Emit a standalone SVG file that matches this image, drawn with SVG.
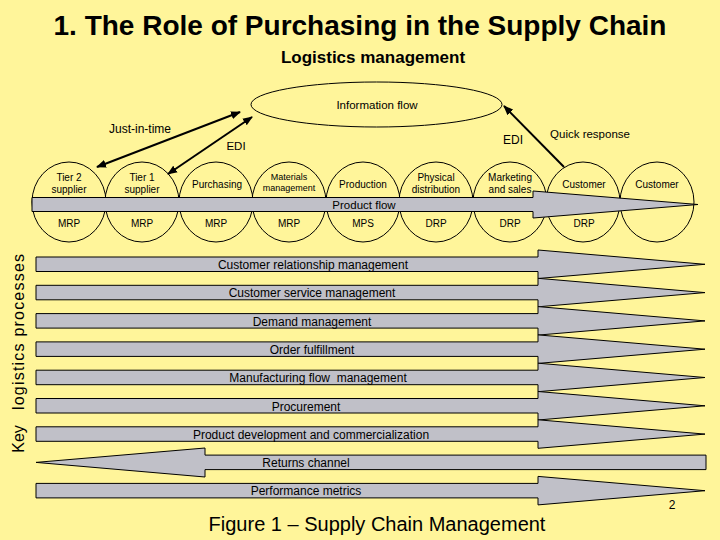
<svg xmlns="http://www.w3.org/2000/svg" width="720" height="540" viewBox="0 0 720 540">
<style>
text{font-family:"Liberation Sans",Arial,sans-serif;fill:#000}
.t{font-size:28px;font-weight:bold}
.st{font-size:17px;font-weight:bold}
.c{font-size:10px;text-anchor:middle}
.cs{font-size:9px;text-anchor:middle}
.l{font-size:12px;text-anchor:middle}
.node{fill:none;stroke:#000;stroke-width:1}
.bar{fill:#C0C0C8;stroke:#000;stroke-width:1}
.conn{stroke:#000;stroke-width:2;fill:none}
</style>
<defs>
<marker id="ah" viewBox="0 0 10 10" refX="9" refY="5" markerWidth="5" markerHeight="5" orient="auto-start-reverse" markerUnits="strokeWidth">
<path d="M0,1 L10,5 L0,9 z" fill="#000"/>
</marker>
</defs>
<rect width="720" height="540" fill="#FFF59A"/>
<text class="t" x="360" y="35" text-anchor="middle">1. The Role of Purchasing in the Supply Chain</text>
<text class="st" x="373" y="63" text-anchor="middle">Logistics management</text>

<g id="info-flow">
<ellipse class="node" cx="376.5" cy="104.5" rx="125.5" ry="22.5"/>
<text class="l" x="377" y="109" style="font-size:11.5px">Information flow</text>
</g>

<g id="circles">
<g id="n-tier2"><ellipse class="node" cx="69" cy="202" rx="37" ry="40"/><text class="c" x="69" y="181">Tier 2</text><text class="c" x="69" y="193">supplier</text><text class="c" x="69" y="227">MRP</text></g>
<g id="n-tier1"><ellipse class="node" cx="142" cy="202" rx="37" ry="40"/><text class="c" x="142" y="181">Tier 1</text><text class="c" x="142" y="193">supplier</text><text class="c" x="142" y="227">MRP</text></g>
<g id="n-purch"><ellipse class="node" cx="216" cy="202" rx="37" ry="40"/><text class="c" x="217" y="187.5">Purchasing</text><text class="c" x="216" y="227">MRP</text></g>
<g id="n-mat"><ellipse class="node" cx="289" cy="202" rx="37" ry="40"/><text class="cs" x="289" y="180">Materials</text><text class="cs" x="289" y="191">management</text><text class="c" x="289" y="227">MRP</text></g>
<g id="n-prod"><ellipse class="node" cx="363" cy="202" rx="37" ry="40"/><text class="c" x="363" y="187.5">Production</text><text class="c" x="363" y="227">MPS</text></g>
<g id="n-phys"><ellipse class="node" cx="436" cy="202" rx="37" ry="40"/><text class="c" x="436" y="181">Physical</text><text class="c" x="436" y="193">distribution</text><text class="c" x="436" y="227">DRP</text></g>
<g id="n-mkt"><ellipse class="node" cx="510" cy="202" rx="37" ry="40"/><text class="c" x="510" y="181">Marketing</text><text class="c" x="510" y="193">and sales</text><text class="c" x="510" y="227">DRP</text></g>
<g id="n-cust1"><ellipse class="node" cx="583" cy="202" rx="37" ry="40"/><text class="c" x="584" y="187.5">Customer</text><text class="c" x="584" y="227">DRP</text></g>
<g id="n-cust2"><ellipse class="node" cx="657" cy="202" rx="37" ry="40"/><text class="c" x="657" y="187.5">Customer</text></g>
</g>

<g id="product-flow">
<polygon class="bar" points="32,197.5 533,197.5 533,191 698,204.5 533,218 533,211.5 32,211.5"/>
<text class="l" x="364" y="209" style="font-size:11.5px">Product flow</text>
</g>

<g id="connectors">
<line class="conn" x1="97" y1="167" x2="240" y2="112" marker-start="url(#ah)" marker-end="url(#ah)"/>
<line class="conn" x1="168" y1="174" x2="252" y2="117" marker-start="url(#ah)" marker-end="url(#ah)"/>
<line class="conn" x1="564" y1="167" x2="504" y2="106" marker-end="url(#ah)"/>
<text x="140" y="133" style="font-size:12px" text-anchor="middle">Just-in-time</text>
<text x="236" y="150" style="font-size:11.5px" text-anchor="middle">EDI</text>
<text x="513" y="144" style="font-size:12px" text-anchor="middle">EDI</text>
<text x="590" y="138" style="font-size:11.5px" text-anchor="middle">Quick response</text>
</g>

<g id="key-processes">
<text transform="translate(24,439) rotate(-90)" style="font-size:16px" text-anchor="middle">Key</text>
<text transform="translate(24,332) rotate(-90)" style="font-size:16px" text-anchor="middle" textLength="156" lengthAdjust="spacing">logistics processes</text>

<g id="p1"><polygon class="bar" points="36,257 538,257 538,250 705,264.3 538,278.5 538,271.5 36,271.5"/><text class="l" x="313" y="268.5">Customer relationship management</text></g>
<g id="p2"><polygon class="bar" points="36,285.3 538,285.3 538,278.3 705,292.6 538,306.8 538,299.8 36,299.8"/><text class="l" x="312" y="297">Customer service management</text></g>
<g id="p3"><polygon class="bar" points="36,313.6 538,313.6 538,306.6 705,320.9 538,335.1 538,328.1 36,328.1"/><text class="l" x="312" y="325.5">Demand management</text></g>
<g id="p4"><polygon class="bar" points="36,341.9 538,341.9 538,334.9 705,349.2 538,363.4 538,356.4 36,356.4"/><text class="l" x="312" y="353.5">Order fulfillment</text></g>
<g id="p5"><polygon class="bar" points="36,370.2 538,370.2 538,363.2 705,377.5 538,391.7 538,384.7 36,384.7"/><text class="l" x="318" y="382" xml:space="preserve">Manufacturing flow  management</text></g>
<g id="p6"><polygon class="bar" points="36,398.5 538,398.5 538,391.5 705,405.8 538,420 538,413 36,413"/><text class="l" x="306" y="410.5">Procurement</text></g>
<g id="p7"><polygon class="bar" points="36,426.8 538,426.8 538,419.8 705,434.1 538,448.3 538,441.3 36,441.3"/><text class="l" x="311" y="438.5">Product development and commercialization</text></g>
<g id="p8"><polygon class="bar" points="706,455.1 706,469.6 205,469.6 205,477 36,462.4 205,448 205,455.1"/><text class="l" x="306" y="467">Returns channel</text></g>
<g id="p9"><polygon class="bar" points="36,483.4 538,483.4 538,476.4 705,490.7 538,504.9 538,497.9 36,497.9"/><text class="l" x="306" y="495">Performance metrics</text></g>
</g>

<text x="377" y="531" style="font-size:20px" text-anchor="middle">Figure 1 – Supply Chain Management</text>
<text x="672" y="509" style="font-size:12px" text-anchor="middle">2</text>
</svg>
